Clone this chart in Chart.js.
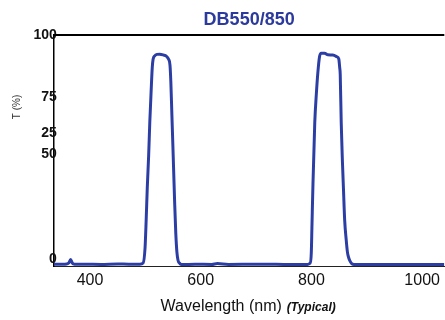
<!DOCTYPE html>
<html>
<head>
<meta charset="utf-8">
<title>DB550/850</title>
<script src="https://cdn.jsdelivr.net/npm/chart.js@4.4.0/dist/chart.umd.min.js"></script>
<style>
  body { margin: 0; background: #fff; }
  #wrap { width: 445px; height: 320px; }
</style>
</head>
<body>
<div id="wrap"><canvas id="filterChart" width="445" height="320"></canvas></div>
<script>
// curve: wavelength (nm) -> transmission (%)
const wavelengths = [
    335, 350, 358, 362, 365, 368, 372, 390, 420, 450, 470, 490,
    496, 499.5, 501.5, 503.5, 506, 508, 510.5, 512.5, 514, 517, 521, 526,
    533, 538, 542, 544.5, 546, 548, 550, 553, 555, 557, 559, 562, 566,
    590, 620, 630, 650, 700, 750, 790,
    797.5, 799.7, 801, 802.5, 806, 809, 811.5, 814.6, 817.7, 823.6, 829.6,
    838.6, 845.8, 849.4, 851, 852, 853.8, 856, 857.9, 860, 862.8, 865, 867,
    870, 873, 880, 900, 950, 1000, 1040
];
const transmission = [
    0.8, 0.8, 0.9, 1.4, 2.8, 1.3, 0.8, 0.8, 0.7, 0.9, 0.8, 0.8,
    1.3, 8, 20, 34, 48, 62, 76, 86, 89.5, 91, 91.6, 91.7,
    91.3, 90.8, 89.5, 87, 80, 65, 50, 27, 14, 6, 2.5, 1.2, 0.6,
    0.8, 0.7, 1.1, 0.7, 0.8, 0.7, 0.6,
    1.2, 5.5, 18, 33, 62, 75, 83.5, 90.6, 92.1, 92.1, 91.4,
    91.3, 90.6, 89.6, 86, 83, 62, 45, 33, 20, 11.3, 6, 3.8,
    2, 1, 0.6, 0.7, 0.6, 0.7, 0.6
];

const chartTitle = 'DB550/850';
const xTitle = 'Wavelength (nm)';
const xNote = '(Typical)';
const yTitle = 'T (%)';

const xTickValues = [400, 600, 800, 1000];
// the labels on the left axis sit at these levels in the original
const yTickValues = [100, 73, 57.7, 48.5, 3];
const yTickLabels = ['100', '75', '25', '50', '0'];

const points = wavelengths.map((w, i) => ({ x: w, y: transmission[i] }));

// top frame line plus the axis titles that need two fonts / odd placement
const extraText = {
    id: 'extraText',
    afterDraw(chart) {
        const { ctx, chartArea } = chart;
        ctx.save();

        ctx.strokeStyle = '#000';
        ctx.lineWidth = 2;
        ctx.beginPath();
        ctx.moveTo(chartArea.left, chartArea.top);
        ctx.lineTo(chartArea.right, chartArea.top);
        ctx.stroke();

        ctx.fillStyle = '#111';
        ctx.textBaseline = 'alphabetic';
        ctx.font = '16px "Liberation Sans", Arial, sans-serif';
        const w1 = ctx.measureText(xTitle).width;
        ctx.font = 'italic bold 12px "Liberation Sans", Arial, sans-serif';
        const w2 = ctx.measureText(xNote).width;
        const gap = 5;
        let x = (chartArea.left + chartArea.right) / 2 - (w1 + gap + w2) / 2 - 1;
        const y = chartArea.bottom + 45;
        ctx.font = '16px "Liberation Sans", Arial, sans-serif';
        ctx.fillText(xTitle, x, y);
        ctx.font = 'italic bold 12px "Liberation Sans", Arial, sans-serif';
        ctx.fillText(xNote, x + w1 + gap, y);

        ctx.translate(17, 107);
        ctx.rotate(-Math.PI / 2);
        ctx.textAlign = 'center';
        ctx.textBaseline = 'middle';
        ctx.font = '10px "Liberation Sans", Arial, sans-serif';
        ctx.fillStyle = '#333';
        ctx.fillText(yTitle, 0, 0);

        ctx.restore();
    }
};

document.addEventListener('DOMContentLoaded', function () {
    const ctx = document.getElementById('filterChart').getContext('2d');
    new Chart(ctx, {
        type: 'line',
        data: {
            datasets: [{
                label: chartTitle,
                data: points,
                borderColor: '#2c3ea4',
                borderWidth: 3,
                pointRadius: 0,
                fill: false,
                cubicInterpolationMode: 'monotone'
            }]
        },
        options: {
            responsive: false,
            animation: false,
            layout: { padding: 0 },
            plugins: {
                legend: { display: false },
                tooltip: { enabled: false },
                title: {
                    display: true,
                    text: chartTitle,
                    fullSize: false,
                    color: '#2b3a9c',
                    font: { family: '"Liberation Sans", Arial, sans-serif', size: 18, weight: 'bold' },
                    padding: { top: 9, bottom: 4.4 }
                }
            },
            scales: {
                x: {
                    type: 'linear',
                    min: 335,
                    max: 1040,
                    grid: { display: false, drawTicks: false },
                    border: { display: true, color: '#222', width: 1 },
                    afterBuildTicks: scale => {
                        scale.ticks = xTickValues.map(v => ({ value: v }));
                    },
                    afterFit: scale => { scale.height = 54; },
                    ticks: {
                        color: '#111',
                        padding: 5,
                        maxRotation: 0,
                        autoSkip: false,
                        font: { family: '"Liberation Sans", Arial, sans-serif', size: 16 },
                        callback: value => String(value)
                    }
                },
                y: {
                    min: 0,
                    max: 100,
                    grid: { display: false, drawTicks: false },
                    border: { display: true, color: '#000', width: 1.5 },
                    afterBuildTicks: scale => {
                        scale.ticks = yTickValues.map(v => ({ value: v }));
                    },
                    afterFit: scale => { scale.width = 54; },
                    ticks: {
                        // mirrored so the labels may run a few px over the axis line, as in the original
                        mirror: true,
                        crossAlign: 'far',
                        color: '#111',
                        padding: -20.5,
                        autoSkip: false,
                        font: { family: '"Liberation Sans", Arial, sans-serif', size: 14, weight: 'bold' },
                        callback: (value, index) => yTickLabels[index]
                    }
                }
            }
        },
        plugins: [extraText]
    });
});
</script>
</body>
</html>
